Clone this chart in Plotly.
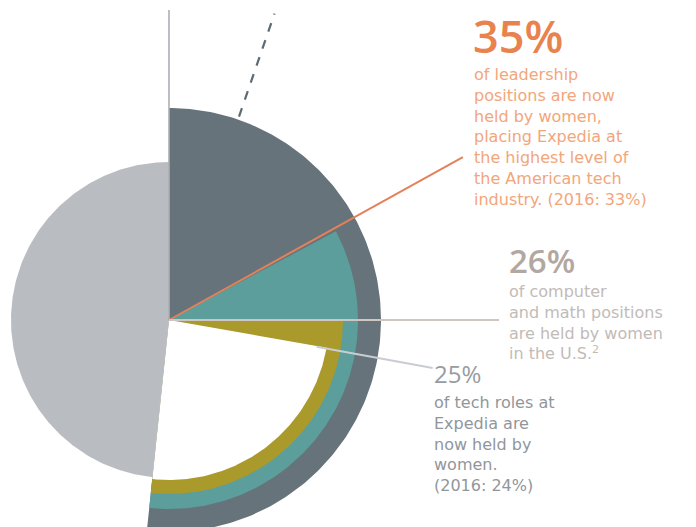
import numpy as np
import plotly.graph_objects as go

# ---- data (angles in degrees clockwise from 12 o'clock, radii in chart units) ----
segments = ["Leadership", "Computer & math", "Tech roles", "Cut-out", "Other"]
theta_start = [0, 62, 90, 100, 186]
theta_end = [186, 186, 186, 186, 360]
radius = [212, 189, 174, 160, 158]
colors = ["#67737a", "#5b9e9c", "#aa9a2b", "#ffffff", "#b9bdc1"]

# leader lines: angle, start radius, end radius
leader_names = ["axis", "dashed", "35%", "26%", "25%"]
leader_theta = [0, 19, 61, 90, 100.3]
leader_r0 = [0, 215, 0, 0, 150]
leader_r1 = [310, 324, 336, 330, 268]
leader_colors = ["#aab0b5", "#5f6b72", "#e3825a", "#cfc6c1", "#c9cdd1"]
leader_dash = ["solid", "dash", "solid", "solid", "solid"]
leader_width = [1.6, 2.2, 2.0, 2.0, 2.0]

W, H = 696, 527
CX, CY = 169, 320


def polar_xy(r, theta_deg):
    t = np.radians(np.asarray(theta_deg, dtype=float))
    r = np.asarray(r, dtype=float)
    return CX + r * np.sin(t), CY - r * np.cos(t)


fig = go.Figure()

for name, a0, a1, rr, c in zip(segments, theta_start, theta_end, radius, colors):
    ang = np.linspace(a0, a1, 200)
    ax, ay = polar_xy(np.full_like(ang, rr), ang)
    xs = np.concatenate([[CX], ax, [CX]])
    ys = np.concatenate([[CY], ay, [CY]])
    fig.add_trace(go.Scatter(x=xs, y=ys, mode="lines", fill="toself", fillcolor=c,
                             line=dict(width=0, color=c), name=name,
                             showlegend=False, hoverinfo="skip"))

for i in range(len(leader_names)):
    lx, ly = polar_xy([leader_r0[i], leader_r1[i]], [leader_theta[i]] * 2)
    fig.add_trace(go.Scatter(x=lx, y=ly, mode="lines",
                             line=dict(color=leader_colors[i], width=leader_width[i],
                                       dash=leader_dash[i]),
                             showlegend=False, hoverinfo="skip", name=leader_names[i]))

fig.update_layout(
    width=W, height=H, margin=dict(l=0, r=0, t=0, b=0),
    paper_bgcolor="white", plot_bgcolor="white",
    xaxis=dict(range=[0, W], visible=False, fixedrange=True),
    yaxis=dict(range=[H, 0], visible=False, fixedrange=True),
)

HEAD = "Open Sans"
BODY = "DejaVu Sans"


def ann(text, px, py, size, color, family, weight="normal"):
    fig.add_annotation(
        x=px, y=py, xref="x", yref="y",
        xanchor="left", yanchor="top", align="left", showarrow=False,
        text=text, font=dict(family=family, size=size, color=color, weight=weight))


ann("35%", 471, 3, 45, "#e8834e", HEAD, 600)
ann("of leadership<br>positions are now<br>held by women,<br>placing Expedia at<br>the highest level of<br>the American tech<br>industry. (2016: 33%)",
    472, 63, 16, "#f2a67b", BODY)

ann("26%", 507, 236, 33, "#b3a7a1", HEAD, 600)
ann("of computer<br>and math positions<br>are held by women<br>in the U.S.<sup>2</sup>",
    507, 280, 16, "#c2bbb7", BODY)

ann("25%", 432, 355, 24, "#979ca1", HEAD)
ann("of tech roles at<br>Expedia are<br>now held by<br>women.<br>(2016: 24%)",
    432, 391, 16, "#91969b", BODY)

fig.write_html("out.html", post_script="document.body.style.margin='0';",
               config={"displayModeBar": False})
